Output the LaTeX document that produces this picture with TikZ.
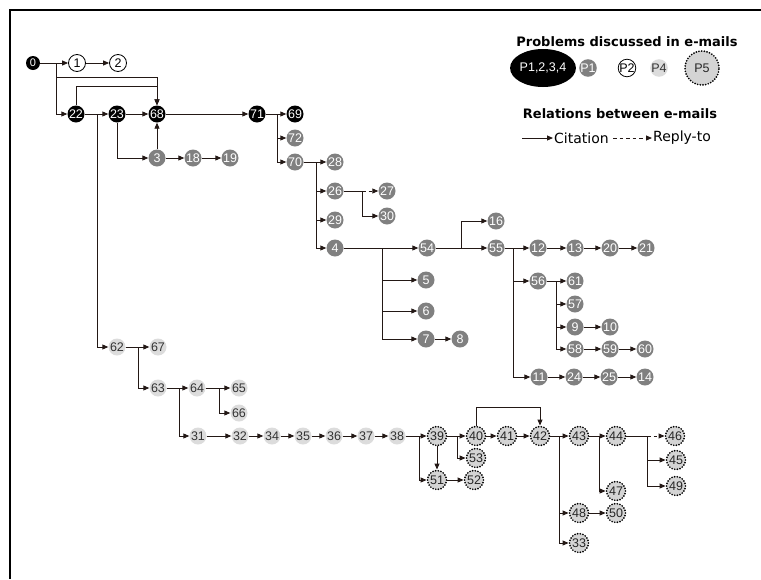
\documentclass[tikz,border=0pt]{standalone}
\usepackage{fontspec}
\setmainfont{Liberation Sans}
\newfontfamily\legendfont{DejaVu Sans}
\usetikzlibrary{arrows.meta,shapes.geometric}
\definecolor{MailLine}{HTML}{231815}
\definecolor{MailDark}{HTML}{808080}
\definecolor{MailLight}{HTML}{DCDCDC}
\definecolor{MailDot}{HTML}{D4D4D4}
\tikzset{
  mail/.style={circle,inner sep=0pt,minimum size=17pt,font=\fontsize{12.5}{12.5}\selectfont},
  pAll/.style={mail,fill=black,text=white},
  pOne/.style={mail,fill=MailDark,text=white},
  pTwo/.style={mail,draw=black,line width=.8pt,fill=white},
  pFour/.style={mail,fill=MailLight,text=black!80},
  pFive/.style={mail,minimum size=19pt,draw=black,line width=1.9pt,line cap=round,dash pattern=on 0pt off 2.7pt,fill=MailDot,text=black!85},
  cite/.style={draw=MailLine,line width=.9pt,-{Triangle[length=6pt,width=5pt]}},
  reply/.style={cite,dash pattern=on 3.5pt off 3pt},
  legtext/.style={font=\legendfont\fontsize{14}{14}\selectfont,inner sep=1pt},
  legtitle/.style={font=\legendfont\bfseries\fontsize{13}{13}\selectfont,inner sep=1pt},
}
\begin{document}
\begin{tikzpicture}[x=1pt,y=-1pt]
\useasboundingbox (0,0) rectangle (761,579);
\draw[line width=2pt] (761,10)--(10,10)--(10,579);
% e-mails by problem
\node[pAll,minimum size=14pt,font=\fontsize{11}{11}\selectfont] (n0) at (33,63) {0};
\foreach \n/\x/\y in {22/76/114,23/117/114,68/157/114,71/257/114,69/295/114}{\node[pAll] (n\n) at (\x,\y) {\n};}
\foreach \n/\x/\y in {1/77/63,2/118/63}{\node[pTwo] (n\n) at (\x,\y) {\n};}
\foreach \n/\x/\y in {3/157/158,18/193/158,19/230/158,72/295/138,70/295/162,28/335/162,26/335/191,29/335/220,4/335/248,27/387/191,30/387/216,54/427/248,5/426/280,6/426/311,7/426/339,8/460/339,16/496/221,55/496/248,12/538/248,13/575/248,20/610/248,21/646/248,56/538/281,61/575/281,57/575/304,9/575/327,10/610/327,58/575/349,59/610/349,60/645/349,11/539/377,24/574/377,25/609/377,14/645/377}{\node[pOne] (n\n) at (\x,\y) {\n};}
\foreach \n/\x/\y in {62/117/347,67/158/347,63/158/388,64/197/388,65/239/388,66/239/413,31/198/436,32/240/436,34/272/436,35/303/436,36/334/436,37/366/436,38/397/436}{\node[pFour] (n\n) at (\x,\y) {\n};}
\foreach \n/\x/\y in {39/437/436,40/476/436,41/507/436,42/540/436,43/579/436,44/616/436,46/675/436,45/676/460,49/676/486,47/616/491,48/579/513,50/616/513,33/579/543,53/476/458,51/437/480,52/474/480}{\node[pFive] (n\n) at (\x,\y) {\n};}
% citations
\foreach \a/\b in {0/1,1/2,22/23,23/68,68/71,71/69,3/68,3/18,18/19,70/28,4/54,54/55,7/8,55/12,12/13,13/20,20/21,56/61,9/10,58/59,59/60,11/24,24/25,25/14,62/67,63/64,64/65,31/32,32/34,34/35,35/36,36/37,37/38,38/39,39/51,39/40,40/41,41/42,51/52,42/43,43/44,48/50}{\draw[cite] (n\a)--(n\b);}
\foreach \a/\d/\b in {0/23/22,22/21/62,71/20/72,71/20/70,70/21/26,70/21/29,70/21/4,26/27/30,4/47/5,4/47/6,4/47/7,54/34/16,55/17/56,55/17/11,56/18/57,56/18/9,56/18/58,62/21/63,63/21/31,64/22/66,38/22/51,39/20/53,42/19/48,42/19/33,43/20/47,44/31/45,44/31/49}{\draw[cite] (n\a)--++(\d,0)|-(n\b);}
\draw[cite] (n23)|-(n3);
\draw[cite] (n0) ++(23,14) -| (n68);
\draw[cite] (n22.north)--++(0,-19)-|(n68);
\draw[cite] (n40.north)--++(0,-18)-|(n42);
\draw[reply] (n26) ++(27,0) -- (n27);
\draw[reply] (n44) ++(31,0) -- (n46);
% legend
\node[legtitle] (probT) at (627,42) {Problems discussed in e-mails};
\node[pAll,ellipse,minimum width=48pt,minimum height=38pt] (legA) at (543,68) {P1,2,3,4};
\node[pOne] (legB) at (588,68) {P1};
\node[pTwo] (legC) at (627,68) {P2};
\node[pFour] (legD) at (659,68) {P4};
\node[pFive,minimum size=34pt] (legE) at (702,68) {P5};
\node[legtitle] (relT) at (620,114) {Relations between e-mails};
\coordinate (citeS) at (522,138); \node[legtext,anchor=west] (citeL) at (553,138) {Citation};
\coordinate (replyS) at (613,138); \node[legtext,anchor=west] (replyL) at (652,138) {Reply-to};
\draw[cite] (citeS)--(citeL); \draw[reply] (replyS)--(replyL);
\end{tikzpicture}
\end{document}
